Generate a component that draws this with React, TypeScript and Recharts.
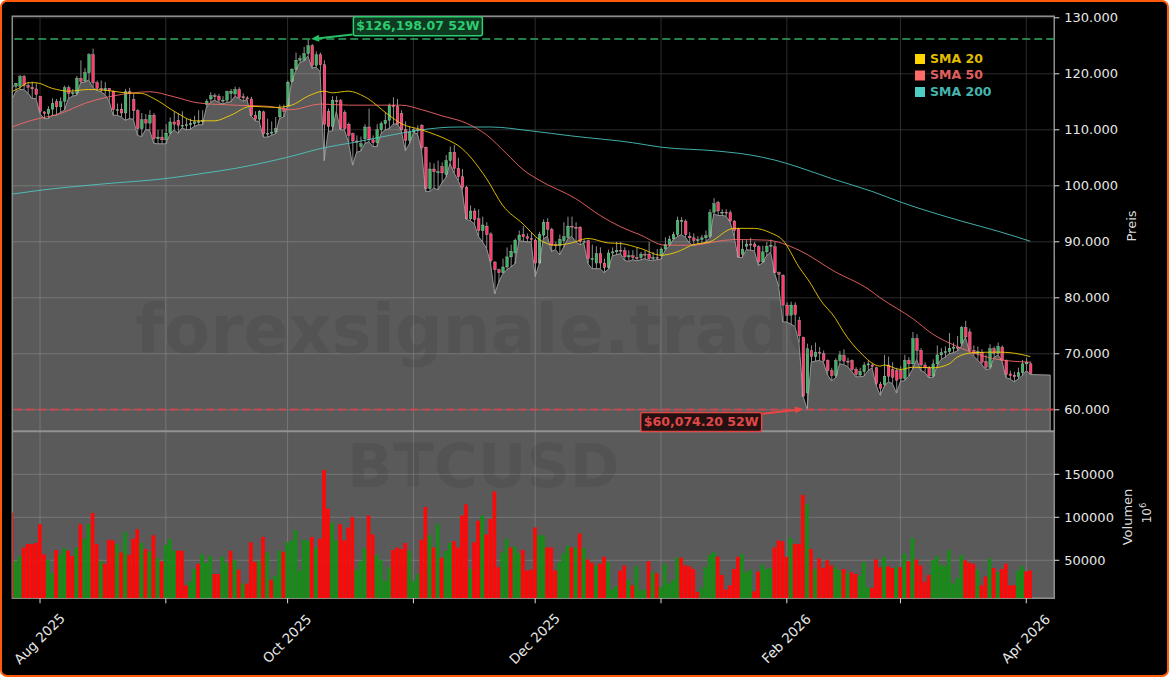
import {
  Area,
  Bar,
  CartesianGrid,
  Cell,
  ComposedChart,
  Line,
  ReferenceArea,
  ReferenceDot,
  ReferenceLine,
  XAxis,
  YAxis,
} from "recharts";

// prices and volumes in thousands, one entry per day from 25 Jul 2025
const opens = [
  117.6,117.8,117.8,119.5,117.9,117.6,117.3,116.0,113.2,112.9,
  113.7,115.0,114.1,115.1,117.5,116.5,116.5,119.2,118.7,120.2,
  123.4,118.4,117.4,117.1,117.4,116.9,113.6,113.7,113.0,116.8,
  115.4,113.4,110.2,111.8,111.2,112.6,108.4,108.7,108.2,109.4,
  111.4,111.7,110.8,110.8,110.9,111.1,111.4,111.5,114.5,115.5,
  116.1,116.0,115.3,115.3,116.5,116.4,117.2,115.9,115.7,115.5,
  112.6,111.9,113.2,109.3,109.4,109.6,112.3,113.9,114.2,118.6,
  120.8,122.4,122.4,123.6,125.0,121.5,123.4,121.6,113.3,110.6,
  115.2,115.2,113.1,111.0,109.3,108.0,107.0,108.4,110.5,108.2,
  107.7,110.0,111.1,111.7,114.4,114.1,112.9,110.0,108.1,109.6,
  110.0,110.8,106.9,99.5,103.0,102.5,103.4,102.0,104.5,106.0,
  103.1,101.6,99.7,94.1,95.5,94.1,92.0,92.8,91.4,86.4,
  85.0,84.5,85.5,87.3,88.0,90.3,91.3,90.9,90.6,90.3,
  86.2,91.2,93.5,92.2,89.5,89.3,90.2,90.8,92.8,92.6,
  92.6,90.0,90.2,87.0,86.2,87.9,86.2,85.4,88.0,88.2,
  88.5,88.4,87.3,87.5,87.2,87.2,87.8,87.8,87.0,87.2,
  87.5,88.7,89.5,90.5,91.3,93.7,93.7,91.0,90.7,90.2,
  90.4,90.7,91.0,95.3,97.0,95.3,95.3,95.2,93.7,92.3,
  87.8,89.2,89.6,89.6,89.1,86.4,88.2,89.2,89.1,84.5,
  84.0,78.7,76.9,78.7,76.0,73.0,63.0,70.6,69.5,70.3,
  70.0,68.8,67.0,66.1,68.8,69.7,68.7,68.8,67.2,66.2,
  66.8,68.0,68.0,67.5,64.6,64.5,68.0,67.2,67.0,67.0,
  65.6,68.8,68.2,72.7,70.6,68.0,67.5,66.0,68.2,69.8,
  70.2,70.4,71.0,71.2,71.9,74.7,73.9,70.6,70.0,70.2,
  68.6,67.6,70.9,70.1,71.2,68.8,66.4,66.2,65.9,66.6,
  68.2,68.2,
];
const highs = [
  118.5,118.4,119.8,119.8,118.5,118.6,118.3,115.9,113.3,114.2,
  115.6,115.5,115.8,117.9,117.9,117.3,119.6,122.4,121.0,123.7,
  124.5,118.8,118.8,118.5,117.4,117.0,114.7,114.7,117.3,117.5,
  116.5,113.7,113.0,112.8,113.5,113.0,110.0,110.0,111.0,112.2,
  113.2,113.0,113.3,112.0,112.0,112.5,113.5,113.5,115.5,116.7,
  116.5,116.4,116.0,117.0,117.3,117.7,117.6,116.5,116.0,115.9,
  113.3,113.5,113.4,112.0,111.5,112.3,114.5,114.5,118.8,121.0,
  123.8,123.3,124.8,126.1,125.3,124.0,123.8,122.4,113.8,116.0,
  116.0,115.5,113.5,111.3,109.5,109.0,108.8,111.0,113.8,109.0,
  111.0,111.5,113.0,114.7,115.8,115.5,113.5,111.5,110.5,110.3,
  110.8,111.0,107.0,104.2,104.0,104.5,104.2,105.5,107.0,107.3,
  105.0,103.0,100.0,96.5,96.0,95.8,94.5,93.5,91.7,86.5,
  85.2,87.0,89.0,89.5,90.6,92.0,92.8,91.5,91.7,90.6,
  91.8,94.0,94.2,92.5,90.0,91.3,93.5,94.5,94.5,93.5,
  92.8,90.4,90.4,89.5,89.2,89.0,87.0,88.6,89.0,90.0,
  90.0,89.0,88.5,88.5,89.0,88.2,88.5,90.0,88.2,88.7,
  89.0,90.8,91.1,91.8,94.5,94.4,94.0,91.7,91.5,91.0,
  91.2,92.0,95.8,97.8,97.3,95.8,95.8,95.6,93.9,92.5,
  90.3,90.3,90.7,90.0,89.4,89.3,90.0,90.4,90.0,84.7,
  84.2,79.2,79.3,79.2,76.6,73.0,71.8,71.5,72.0,71.2,
  70.6,69.0,67.5,69.2,70.5,70.8,69.3,69.0,67.6,67.5,
  68.5,68.8,68.4,67.7,65.0,69.8,69.5,68.5,67.5,67.8,
  69.8,69.4,73.9,73.5,71.0,68.5,67.8,69.0,71.5,71.0,
  71.3,73.7,72.0,73.2,75.0,75.9,74.5,71.5,71.3,70.8,
  69.8,71.7,71.3,72.0,71.5,69.0,67.0,66.8,67.5,68.9,
  69.3,68.6,
];
const lows = [
  115.3,116.8,117.2,117.2,116.6,115.6,115.6,112.9,112.0,112.0,
  112.6,112.6,113.1,113.5,115.6,116.0,116.2,118.4,118.5,118.9,
  117.6,117.0,116.8,116.3,115.2,112.6,112.6,112.3,111.7,112.0,
  111.9,109.0,108.8,110.0,110.0,107.6,107.5,107.5,107.5,109.2,
  110.0,109.4,110.4,110.0,110.1,110.6,110.9,110.9,114.0,114.9,
  115.3,114.9,114.6,114.9,115.0,116.0,115.6,115.1,115.4,112.5,
  111.6,111.5,108.7,108.7,109.0,109.3,112.0,112.3,114.3,118.6,
  120.6,122.0,122.3,123.2,121.0,121.2,120.4,104.5,109.7,109.8,
  113.3,110.0,110.0,107.8,103.7,106.0,106.2,107.5,107.9,107.0,
  107.0,109.3,110.0,110.2,111.0,111.1,109.9,106.3,107.5,109.5,
  109.3,106.3,99.0,99.0,99.6,99.3,100.5,101.5,104.0,102.3,
  101.0,99.2,94.0,93.8,93.2,91.0,90.0,88.9,86.2,80.7,
  82.8,84.3,85.0,85.5,86.1,90.2,90.1,90.0,90.0,83.8,
  86.1,90.5,91.0,88.3,88.6,87.7,89.0,90.5,91.0,90.0,
  89.5,89.7,86.1,85.2,85.2,85.2,84.5,85.1,87.5,87.7,
  87.9,86.7,86.5,86.8,86.6,86.8,87.0,86.7,86.7,86.8,
  86.9,88.5,89.2,90.4,90.9,91.3,90.8,89.8,89.3,89.5,
  89.6,90.0,90.7,95.0,94.7,94.7,94.6,93.6,91.0,87.2,
  87.2,88.6,88.5,88.4,85.8,86.2,87.5,88.2,84.4,82.0,
  75.7,75.7,75.3,74.9,72.0,62.5,60.07,68.5,68.7,68.8,
  68.5,66.3,65.2,65.7,68.2,68.1,67.7,66.8,65.9,65.9,
  66.0,67.0,67.5,64.4,62.6,64.2,65.0,64.7,63.0,65.1,
  65.2,66.0,67.3,69.0,67.0,66.7,65.7,65.8,67.8,69.0,
  69.4,70.0,70.2,70.5,71.4,73.0,70.3,69.6,68.9,68.1,
  67.2,67.3,69.3,69.8,68.8,65.7,65.5,65.0,65.5,66.1,
  67.0,66.3,
];
const closes = [
  118.0,118.3,119.5,117.9,117.6,117.3,116.3,113.3,112.9,113.7,
  114.7,114.1,115.0,117.5,116.5,116.6,119.2,118.6,120.2,123.4,
  118.4,117.4,117.1,117.4,117.0,113.6,113.6,113.0,116.8,116.5,
  113.4,110.2,111.8,111.2,112.6,108.4,108.7,108.2,109.4,111.4,
  111.0,110.8,110.8,110.9,111.1,111.4,111.5,111.6,115.1,116.1,
  116.0,115.3,115.3,116.8,116.9,117.2,115.8,115.7,115.5,112.6,
  111.9,113.3,109.3,109.4,109.6,110.2,113.9,113.3,118.5,120.8,
  122.4,122.7,123.6,125.0,121.5,123.4,121.6,111.0,110.6,115.3,
  115.0,110.2,110.2,109.0,108.0,107.8,107.5,110.5,108.2,107.7,
  110.0,111.1,111.7,114.4,114.1,111.0,110.0,108.1,109.6,110.0,
  109.9,106.8,99.5,103.0,102.5,102.5,102.3,104.5,106.0,103.1,
  101.6,99.7,94.1,95.5,94.0,92.0,93.0,91.3,86.6,85.0,
  84.5,85.5,87.3,88.3,90.3,91.2,90.9,90.6,90.4,86.2,
  91.3,93.5,92.2,89.3,89.3,90.4,90.9,92.8,92.7,92.5,
  90.0,90.0,87.0,87.0,87.9,86.2,85.4,88.0,88.2,88.5,
  88.4,87.3,87.5,87.2,87.1,87.8,87.7,87.0,87.2,87.1,
  88.7,89.5,90.5,91.3,93.8,93.8,91.3,90.7,90.2,90.4,
  90.7,91.1,95.2,96.8,95.5,95.3,95.2,93.7,92.0,87.3,
  88.7,89.6,89.5,89.1,86.4,88.2,89.2,89.4,84.5,84.2,
  78.7,76.9,78.7,77.0,73.2,62.4,70.9,69.5,70.3,70.2,
  68.8,67.0,66.1,68.8,69.8,68.7,68.6,67.2,66.3,66.8,
  68.0,68.2,67.7,64.7,63.8,66.0,66.0,65.8,65.3,65.6,
  68.8,68.2,72.7,70.6,68.0,67.5,66.0,68.2,69.8,70.2,
  70.4,71.0,71.2,71.0,74.7,73.0,70.6,70.0,70.4,68.5,
  67.6,70.9,70.1,71.3,68.8,66.3,66.1,65.9,66.6,68.2,
  68.5,66.5,
];
const volumes = [
  105.6,49,55,65,69,69,70,92,57,50,
  35,62,57,64,61,55,65,92,75,92,
  105,69,49,46,74,73,69,59,83,56,
  75,86,70,63,60,79,52,49,68,75,
  61,61,61,21,25,40,46,57,47,55,
  34,34,54,47,61,50,39,23,23,71,
  48,49,77,59,27,32,61,60,71,73,
  85,38,74,73,77,65,75,155,110,94,
  73,92,73,88,100,39,49,64,102,80,
  56,50,26,42,62,65,63,70,61,26,
  34,74,112,79,65,92,53,61,70,72,
  65,102,115,40,71,96,102,80,98,130,
  42,59,75,65,66,58,62,38,39,88,
  79,79,65,65,38,48,58,67,65,65,
  81,64,51,47,44,46,54,48,16,20,
  38,44,27,21,43,15,16,49,36,35,
  19,46,23,27,53,53,44,43,40,13,
  18,42,56,60,54,33,16,21,40,54,
  57,36,39,14,37,45,40,41,65,73,
  72,54,76,69,69,126,115,63,40,52,
  41,50,44,42,38,40,35,36,34,32,
  48,19,18,51,42,54,43,41,42,42,
  58,49,76,51,44,25,33,50,55,45,
  43,62,23,29,56,50,47,46,39,21,
  31,52,41,36,40,46,21,21,38,43,
  37,38,
];
// r = red bar, g = green bar
const volumeSides = (
  "rggrrrrrrg" + "grggrrgrgg" + "rrgrrrgrgr" + "rrgrgrgrgg" + "grrrggrggg" +
  "rrggrgrgrr" + "rgrgrggrgg" + "ggggrgrrrg" + "grrrrgggrr" + "ggggrrrrgg" +
  "grrgrgrggr" + "rrrgrrgrrr" + "rggrggrrrr" + "ggrrrgggrg" + "rgrrgrrggg" +
  "rrgrgggrgr" + "gggggrrrrr" + "ggggrrrrrr" + "gggrrgggrr" + "rrgrrrgrgr" +
  "rrrggrgrrg" + "ggrrrgrrgr" + "grgrrrrggg" + "gggggrrrgr" + "rgrgrrrrgg" + "rr"
).split("");

const sma20 = [
  [0,116.8],[2,117.5],[4,118.4],[6,118.4],[10,117.4],[14,116.9],[19,117.2],[25,116.9],[28,116.6],[32,116.5],
  [35,115.6],[41,112.9],[45,111.6],[50,111.6],[54,112.6],[59,114.2],[65,114],[69,114.4],[73,116],[77,116.9],
  [79,116.6],[83,116.9],[87,115.9],[93,112.6],[96,111.1],[101,110],[108,108],[110,107.2],[117,101.3],[121,96.5],
  [126,93.2],[130,90.4],[134,89.4],[138,89.8],[142,90.6],[147,89.8],[150,89.7],[155,88.8],[160,87.6],[164,88.2],
  [168,89.5],[172,90],[178,92.4],[183,92.4],[187,91.6],[190,90.3],[194,85.5],[197,82.4],[199,79.9],[203,76.3],
  [205,73.9],[209,70.3],[214,67.8],[215,68],[219,67.2],[222,67.6],[227,67.5],[231,68.2],[233,69.4],[237,70.2],
  [243,70.3],[246,70.2],[251,69.5],
];
const sma50 = [
  [0,110.5],[5,111.7],[12,112.9],[18,114.7],[24,115.9],[30,116.6],[34,116.8],[40,115.9],[46,114.8],[55,114.4],
  [63,114.2],[69,113.6],[76,114.6],[83,114.4],[96,114.4],[101,113.6],[106,112.5],[112,111.2],[117,109.1],[122,105.7],
  [126,102.9],[130,101],[139,97.7],[145,94.7],[150,92.7],[155,91.2],[161,89.4],[167,89.4],[178,90.4],[186,90.3],
  [194,88.5],[203,84.6],[211,81.6],[214,80],[222,76.3],[227,73.5],[233,71.3],[238,69.9],[243,69],[251,68.5],
];
const sma200 = [
  [0,98.5],[7,99.2],[22,100.3],[38,101.3],[47,102.2],[55,103.1],[68,105.1],[77,106.8],[84,107.7],[96,109.4],
  [101,110],[110,110.5],[118,110.5],[128,109.8],[138,108.9],[153,107.7],[160,106.9],[174,106.2],[182,105.5],[188,104.6],
  [194,103.3],[202,101.3],[212,99],[219,97.1],[234,93.7],[243,91.9],[251,90.1],
];

const priceTicks = [60000, 70000, 80000, 90000, 100000, 110000, 120000, 130000];
const volumeTicks = [50000, 100000, 150000];
const monthTicks = [7, 38, 68, 99, 129, 160, 191, 219, 250];
const monthLabels = ["Aug 2025", "", "Oct 2025", "", "Dec 2025", "", "Feb 2026", "", "Apr 2026"];

const legendNames = ["SMA 20", "SMA 50", "SMA 200"];
const legendColors = ["#FFD700", "#FF6B6B", "#4ECDC4"];

const high52w = 126198.07;
const low52w = 60074.2;
const lastStepValue = 66200;

const W = 1169;
const H = 677;
const FONT = "'DejaVu Sans', sans-serif";
const X_MIN = 0.17;
const X_MAX = 256.9;
const PRICE_MIN = 26340;
const PRICE_MAX = 130268;
const VOL_MIN = 5800;
const VOL_MAX = 682600;
const PANEL_SPLIT = 56170; // price value where the volume panel starts
const AREA_END = 255.9;
const WASH = "rgba(255,255,255,0.353)";

const rows = lows.map((l, i) => ({
  i,
  o: opens[i] * 1000,
  h: highs[i] * 1000,
  l: l * 1000,
  c: closes[i] * 1000,
  vol: volumes[i] * 1000,
  side: volumeSides[i],
}));

const areaRows = [
  ...rows.map((r) => ({ i: r.i, l: r.l })),
  { i: AREA_END, l: lastStepValue },
  { i: AREA_END, l: PANEL_SPLIT },
];

const toLine = (pts: number[][]) => pts.map(([i, v]) => ({ i, v: v * 1000 }));

function Candle(props: any) {
  const { x, y, width, height, payload } = props;
  const { o, h, l, c } = payload;
  const cx = x + width / 2;
  const span = h - l || 1;
  const yOf = (v: number) => y + ((h - v) / span) * height;
  const top = yOf(Math.max(o, c));
  const bottom = yOf(Math.min(o, c));
  return (
    <g>
      <line x1={cx} x2={cx} y1={y} y2={y + height} stroke="#b4b4b4" strokeWidth={0.8} />
      <rect
        x={x}
        y={top}
        width={width}
        height={Math.max(bottom - top, 1)}
        fill={c >= o ? "#3cb562" : "#ff3b6b"}
        stroke="#d0d0d0"
        strokeWidth={0.3}
      />
    </g>
  );
}

function MonthTick(props: any) {
  const { x, y, payload } = props;
  const label = monthLabels[monthTicks.indexOf(payload.value)];
  if (!label) return null;
  const ty = y + 34;
  return (
    <text
      x={x}
      y={ty}
      fontSize={13.5}
      fontFamily={FONT}
      fill="#e6e6e6"
      textAnchor="middle"
      dominantBaseline="middle"
      transform={`rotate(-45 ${x} ${ty})`}
    >
      {label}
    </text>
  );
}

function Arrow(props: any) {
  const { x1, y1, x2, y2 } = props;
  const color = props.stroke;
  const len = Math.hypot(x2 - x1, y2 - y1) || 1;
  const ux = (x2 - x1) / len;
  const uy = (y2 - y1) / len;
  const bx = x2 - ux * 8;
  const by = y2 - uy * 8;
  return (
    <g>
      <line x1={x1} y1={y1} x2={bx} y2={by} stroke={color} strokeWidth={2} />
      <polygon
        points={`${x2},${y2} ${bx - uy * 3.5},${by + ux * 3.5} ${bx + uy * 3.5},${by - ux * 3.5}`}
        fill={color}
      />
    </g>
  );
}

function PriceBadge(props: any) {
  const { cx, cy, text, color, back, w } = props;
  return (
    <g>
      <rect x={cx - w / 2} y={cy - 9.5} width={w} height={19} rx={2} fill={back} stroke={color} strokeWidth={1.5} />
      <text
        x={cx}
        y={cy + 0.5}
        fontSize={12.5}
        fontWeight="bold"
        fontFamily={FONT}
        fill={color}
        textAnchor="middle"
        dominantBaseline="middle"
      >
        {text}
      </text>
    </g>
  );
}

function Watermark(props: any) {
  const { cx, cy, text, size } = props;
  return (
    <text x={cx} y={cy} fontSize={size} fontWeight="bold" fontFamily={FONT} fill="rgba(0,0,0,0.07)" textAnchor="middle">
      {text}
    </text>
  );
}

export default function App() {
  return (
    <div
      style={{
        position: "absolute",
        left: 0,
        top: 0,
        width: W,
        height: H,
        boxSizing: "border-box",
        background: "#000",
        border: "2px solid #ff5a0a",
        borderRadius: 7,
        overflow: "hidden",
      }}
    >
      <div style={{ position: "absolute", left: -2, top: -2 }}>
        <ComposedChart
          width={W}
          height={H}
          data={rows}
          margin={{ left: 12.3, top: 16.3, right: 114.7, bottom: 78.7 }}
        >
          <XAxis
            xAxisId="main"
            dataKey="i"
            type="number"
            domain={[X_MIN, X_MAX]}
            allowDataOverflow
            ticks={monthTicks}
            interval={0}
            height={0.01}
            tick={<MonthTick />}
            tickSize={5}
            tickLine={{ stroke: "#ddd" }}
            axisLine={false}
          />
          <XAxis xAxisId="candle" dataKey="i" type="number" domain={[X_MIN, X_MAX]} allowDataOverflow hide height={0} />
          <YAxis
            yAxisId="price"
            orientation="right"
            type="number"
            domain={[PRICE_MIN, PRICE_MAX]}
            allowDataOverflow
            ticks={priceTicks}
            interval={0}
            width={0.01}
            tickSize={5}
            tickMargin={5}
            tickFormatter={(v: number) => `${v / 1000}.000`}
            tick={{ fill: "#e6e6e6", fontSize: 13, fontFamily: FONT, textAnchor: "start" }}
            tickLine={{ stroke: "#ddd" }}
            axisLine={false}
          />
          <YAxis
            yAxisId="volume"
            orientation="right"
            type="number"
            domain={[VOL_MIN, VOL_MAX]}
            allowDataOverflow
            ticks={volumeTicks}
            interval={0}
            width={0.01}
            tickSize={5}
            tickMargin={5}
            tick={{ fill: "#e6e6e6", fontSize: 13, fontFamily: FONT, textAnchor: "start" }}
            tickLine={{ stroke: "#ddd" }}
            axisLine={false}
          />
          <CartesianGrid xAxisId="main" yAxisId="price" stroke="#383838" strokeWidth={0.8} />
          <CartesianGrid xAxisId="main" yAxisId="volume" stroke="#383838" strokeWidth={0.8} vertical={false} />

          <ReferenceArea
            xAxisId="main"
            yAxisId="price"
            x1={X_MIN}
            x2={X_MAX}
            y1={PRICE_MIN}
            y2={PANEL_SPLIT}
            fill={WASH}
            fillOpacity={1}
            stroke="none"
          />

          <Bar xAxisId="main" yAxisId="volume" dataKey="vol" barSize={4.3} isAnimationActive={false}>
            {rows.map((r) => (
              <Cell key={r.i} fill={r.side === "r" ? "#fe0808" : "#188c18"} />
            ))}
          </Bar>
          <Bar
            xAxisId="candle"
            yAxisId="price"
            dataKey={(d: any) => [d.l, d.h]}
            barSize={2.7}
            shape={<Candle />}
            zIndex={90}
            isAnimationActive={false}
          />
          <Area
            xAxisId="main"
            yAxisId="price"
            data={areaRows}
            dataKey="l"
            type="linear"
            baseValue={PANEL_SPLIT}
            fill={WASH}
            fillOpacity={1}
            stroke="#a0a0a0"
            strokeWidth={0.9}
            dot={false}
            activeDot={false}
            zIndex={100}
            isAnimationActive={false}
          />

          <ReferenceDot
            xAxisId="main"
            yAxisId="price"
            x={116.4}
            y={70090}
            r={0}
            shape={<Watermark text="forexsignale.trade" size={67} />}
          />
          <ReferenceDot
            xAxisId="main"
            yAxisId="price"
            x={116.2}
            y={46160}
            r={0}
            shape={<Watermark text="BTCUSD" size={60} />}
          />

          <Line xAxisId="main" yAxisId="price" data={toLine(sma200)} dataKey="v" type="monotone" stroke="#4ECDC4" strokeOpacity={0.85} strokeWidth={1} dot={false} activeDot={false} isAnimationActive={false} />
          <Line xAxisId="main" yAxisId="price" data={toLine(sma50)} dataKey="v" type="monotone" stroke="#FF6B6B" strokeOpacity={0.85} strokeWidth={1} dot={false} activeDot={false} isAnimationActive={false} />
          <Line xAxisId="main" yAxisId="price" data={toLine(sma20)} dataKey="v" type="monotone" stroke="#FFD700" strokeOpacity={0.85} strokeWidth={1} dot={false} activeDot={false} isAnimationActive={false} />

          <ReferenceLine xAxisId="main" yAxisId="price" y={high52w} stroke="#2f9e5b" strokeWidth={2} strokeDasharray="8 4" strokeOpacity={0.8} />
          <ReferenceLine xAxisId="main" yAxisId="price" y={low52w} stroke="#d8434b" strokeWidth={2} strokeDasharray="8 4" strokeOpacity={0.85} />
          <ReferenceLine xAxisId="main" yAxisId="price" y={PANEL_SPLIT} stroke="#929292" strokeWidth={2} />

          <ReferenceLine
            xAxisId="main"
            yAxisId="price"
            segment={[{ x: 84, y: 127000 }, { x: 73.8, y: high52w }]}
            stroke="#27c064"
            shape={<Arrow />}
          />
          <ReferenceLine
            xAxisId="main"
            yAxisId="price"
            segment={[{ x: 185, y: 59300 }, { x: 195, y: 60150 }]}
            stroke="#ef4444"
            shape={<Arrow />}
          />
          <ReferenceDot
            xAxisId="main"
            yAxisId="price"
            x={100.1}
            y={128480}
            r={0}
            shape={<PriceBadge text="$126,198.07 52W" color="#2ecc71" back="#0d3a20" w={129} />}
          />
          <ReferenceDot
            xAxisId="main"
            yAxisId="price"
            x={169.9}
            y={57820}
            r={0}
            shape={<PriceBadge text="$60,074.20 52W" color="#e04848" back="#241212" w={121} />}
          />

          <ReferenceArea
            xAxisId="main"
            yAxisId="price"
            x1={X_MIN}
            x2={X_MAX}
            y1={PRICE_MIN}
            y2={PRICE_MAX}
            fill="none"
            stroke="#8c8c8c"
            strokeWidth={1.5}
          />

          {legendNames.map((name, k) => (
            <g key={name}>
              <rect x={915} y={54 + k * 16.5} width={10} height={10} fill={legendColors[k]} />
              <text x={930} y={62.5 + k * 16.5} fontSize={12.5} fontWeight="bold" fontFamily={FONT} fill={legendColors[k]} fillOpacity={0.9}>
                {name}
              </text>
            </g>
          ))}

          <text x={1132} y={226} fontSize={13} fontFamily={FONT} fill="#dcdcdc" textAnchor="middle" dominantBaseline="middle" transform="rotate(-90 1132 226)">
            Preis
          </text>
          <text x={1128} y={517} fontSize={13} fontFamily={FONT} fill="#dcdcdc" textAnchor="middle" dominantBaseline="middle" transform="rotate(-90 1128 517)">
            Volumen
          </text>
          <text x={1151} y={513} fontSize={12} fontFamily={FONT} fill="#dcdcdc" textAnchor="middle" transform="rotate(-90 1151 513)">
            10
            <tspan fontSize={8.5} dy={-5}>
              6
            </tspan>
          </text>
        </ComposedChart>
      </div>
    </div>
  );
}
